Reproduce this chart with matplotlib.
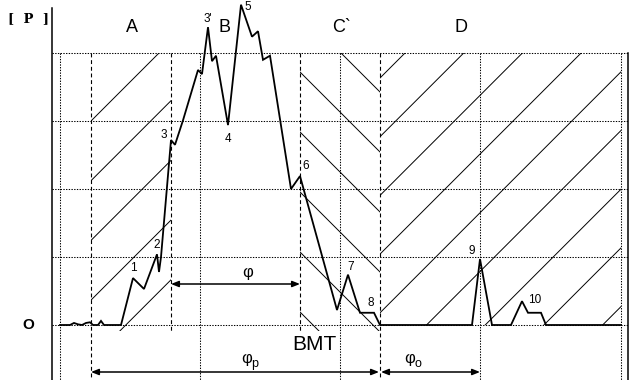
import matplotlib
matplotlib.use("Agg")
import matplotlib.pyplot as plt
from matplotlib.patches import Rectangle

plt.rcParams['font.family'] = ['Liberation Sans', 'DejaVu Sans']

# courbe de pression : x en colonnes, p en pas de grille
angle = [60, 70, 74, 78, 82, 86, 90, 93, 98, 101, 104, 121, 133, 144, 157, 159, 161,
         171, 175, 183, 198, 202, 208, 212, 216, 228, 241, 252, 258, 263, 270, 291,
         300, 337, 348, 360, 374, 380, 472, 480, 492, 511, 522, 528, 541, 546, 621]
pression = [0, 0, 0.03, 0.01, 0, 0.03, 0.04, 0, 0, 0.06, 0, 0, 0.69, 0.53, 1.04, 0.78, 1.0,
            2.72, 2.65, 3.01, 3.75, 3.69, 4.38, 3.88, 3.96, 2.94, 4.71, 4.24, 4.32, 3.90, 3.96, 2.0,
            2.19, 0.22, 0.74, 0.18, 0.18, 0, 0, 0.97, 0, 0, 0.35, 0.18, 0.18, 0, 0]

# numéros des points
points = ["1", "2", "3", "3'", "4", "5", "6", "7", "8", "9", "10"]
points_x = [133, 157, 164, 208, 228, 248, 306, 351, 371, 472, 535]
points_p = [0.84, 1.18, 2.79, 4.50, 2.74, 4.68, 2.34, 0.85, 0.32, 1.09, 0.37]

# zones
zones = ["A", "B", "C`", "D"]
zones_x = [132, 224, 342, 461]

# niveaux de grille
niveaux = [0, 1, 2, 3, 4]
verticales_pointillees = [60, 200, 340, 480, 621]
limites = [91, 171, 300, 380]


def py(y):
    # ligne de pixel -> unité de pression
    return (325 - y) / 68.0


fig = plt.figure(figsize=(6.4, 3.8), dpi=100)
ax = fig.add_axes([0, 0, 1, 1])
ax.set_xlim(0, 640)
ax.set_ylim(py(380), py(0))
ax.axis('off')

# grille
for n in niveaux:
    ax.plot([52, 628], [n, n], color='black', lw=0.75, ls=(0, (1.3, 1.3)))
for x in verticales_pointillees:
    ax.plot([x, x], [py(53), py(380)], color='black', lw=0.75, ls=(0, (1.3, 1.3)))
bas = [py(380), py(333), py(333), py(380)]
for x, b in zip(limites, bas):
    ax.plot([x, x], [py(53), b], color='black', lw=0.8, ls=(0, (3.5, 2.5)))

# cadre
ax.plot([52, 52], [py(8), py(380)], color='black', lw=1.1)
ax.plot([628, 628], [py(53), py(380)], color='black', lw=1.1)


def hachures(x0, x1, y0, y1, constantes, sens):
    clip = Rectangle((x0, py(y1)), x1 - x0, py(y0) - py(y1), transform=ax.transData,
                     fill=False, lw=0)
    ax.add_patch(clip)
    for c in constantes:
        xs = [x0 - 400, x1 + 400]
        if sens > 0:
            ys = [py(c - x) for x in xs]
        else:
            ys = [py(x - c) for x in xs]
        ln, = ax.plot(xs, ys, color='black', lw=0.7)
        ln.set_clip_path(clip)


hachures(91, 171, 53, 331, [212 + 59.7 * k for k in range(5)], 1)
hachures(300, 380, 53, 331, [-12 + 60 * k for k in range(6)], -1)
hachures(380, 621, 53, 325, [458 + 58.7 * k for k in range(9)], 1)

# courbe
ax.plot(angle, pression, color='black', lw=1.3, solid_joinstyle='miter')

for t, x, p in zip(points, points_x, points_p):
    ax.text(x, p, t, fontsize=8.5, ha='center', va='center')
for t, x in zip(zones, zones_x):
    ax.text(x, py(28), t, fontsize=13, ha='center', va='center')

ax.text(29, py(19), "[  P  ]", fontsize=9.5, fontweight='bold', family='DejaVu Serif',
        ha='center', va='center')
ax.text(28, py(325), "O", fontsize=11, fontweight='bold', ha='center', va='center')
ax.text(314, py(344), "BMT", fontsize=15, ha='center', va='center')

# flèches
fl = dict(arrowstyle="<|-|>,head_length=0.45,head_width=0.18", color='black', lw=1.1,
          shrinkA=0, shrinkB=0)
ax.annotate("", xy=(171, py(284)), xytext=(300, py(284)), arrowprops=fl)
ax.annotate("", xy=(91, py(372)), xytext=(379, py(372)), arrowprops=fl)
ax.annotate("", xy=(381, py(372)), xytext=(480, py(372)), arrowprops=fl)

ax.text(248, py(272), "φ", fontsize=12, ha='center', va='center')
ax.text(247, py(358), "φ", fontsize=12, ha='center', va='center')
ax.text(255, py(364), "p", fontsize=9, ha='center', va='center')
ax.text(410, py(358), "φ", fontsize=12, ha='center', va='center')
ax.text(418, py(364), "o", fontsize=9, ha='center', va='center')

fig.savefig("out.png", dpi=100)
